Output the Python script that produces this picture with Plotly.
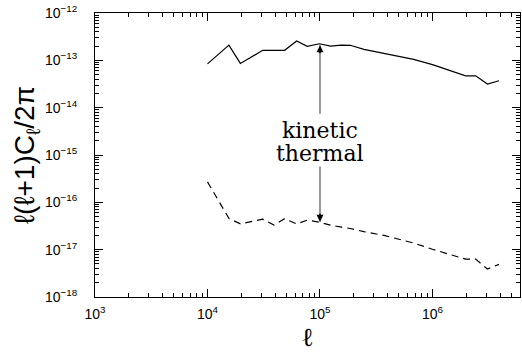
import plotly.graph_objects as go

ell = [1.0e4, 1.55e4, 1.96e4, 3.1e4, 3.9e4, 4.85e4, 6.2e4, 7.7e4, 9.9e4, 1.24e5,
       1.55e5, 1.86e5, 2.46e5, 3.7e5, 6.8e5, 1.0e6, 1.97e6, 2.42e6, 3.08e6, 3.9e6]
kinetic = [8.4e-14, 2.1e-13, 8.6e-14, 1.63e-13, 1.63e-13, 1.63e-13, 2.56e-13, 1.97e-13, 2.24e-13, 2.0e-13,
           2.1e-13, 2.08e-13, 1.7e-13, 1.4e-13, 1.05e-13, 8.1e-14, 4.7e-14, 4.7e-14, 3.15e-14, 3.7e-14]
thermal = [2.7e-16, 4.6e-17, 3.5e-17, 4.4e-17, 3.3e-17, 4.5e-17, 3.5e-17, 4.2e-17, 3.8e-17, 3.3e-17,
           3.0e-17, 2.8e-17, 2.4e-17, 2.0e-17, 1.38e-17, 1.02e-17, 6.3e-18, 6.3e-18, 3.9e-18, 4.9e-18]

x_tickvals = [1e3, 1e4, 1e5, 1e6]
x_ticktext = ["10<sup>3</sup>", "10<sup>4</sup>", "10<sup>5</sup>", "10<sup>6</sup>"]
y_tickvals = [1e-18, 1e-17, 1e-16, 1e-15, 1e-14, 1e-13, 1e-12]
y_ticktext = ["10<sup>−18</sup>", "10<sup>−17</sup>", "10<sup>−16</sup>", "10<sup>−15</sup>",
              "10<sup>−14</sup>", "10<sup>−13</sup>", "10<sup>−12</sup>"]

fig = go.Figure()
fig.add_trace(go.Scatter(x=ell, y=kinetic, mode="lines", line=dict(color="black", width=1.2),
                         showlegend=False))
fig.add_trace(go.Scatter(x=ell, y=thermal, mode="lines",
                         line=dict(color="black", width=1.2, dash="7px,5px"), showlegend=False))

txtfont = dict(family="DejaVu Serif", size=22, color="black")
fig.add_annotation(x=5, y=-14.49, xref="x", yref="y", text="kinetic", showarrow=False, font=txtfont)
fig.add_annotation(x=5, y=-14.96, xref="x", yref="y", text="thermal", showarrow=False, font=txtfont)

# arrows: grey shafts, black heads
for tip, tail in [(-12.68, -14.16), (-16.41, -15.21)]:
    fig.add_annotation(x=5, y=tip, ax=5, ay=tail, xref="x", yref="y", axref="x", ayref="y",
                       text="", showarrow=True, arrowhead=0, arrowwidth=1.6, arrowcolor="#808080")
    fig.add_annotation(x=5, y=tip, ax=5, ay=tip + (0.2 if tail > tip else -0.2), xref="x", yref="y",
                       axref="x", ayref="y", text="", showarrow=True, arrowhead=2, arrowsize=1.0,
                       arrowwidth=1.4, arrowcolor="black")

tickfont = dict(family="Liberation Sans", size=14, color="black")
axcommon = dict(type="log", showgrid=False, zeroline=False, showline=True, linecolor="black",
                linewidth=1, mirror="allticks", ticks="inside", ticklen=8, tickcolor="black",
                tickwidth=1, tickfont=tickfont,
                minor=dict(ticks="inside", ticklen=4, tickcolor="black", dtick="D1", showgrid=False))

fig.update_xaxes(**axcommon, range=[3, 6.778], tickmode="array", tickvals=x_tickvals,
                 ticktext=x_ticktext, ticklabelstandoff=4,
                 title=dict(text="ℓ", font=dict(family="DejaVu Serif", size=26, color="black"),
                            standoff=4))
fig.update_yaxes(**axcommon, range=[-18, -12], tickmode="array", tickvals=y_tickvals,
                 ticktext=y_ticktext, ticklabelstandoff=14,
                 title=dict(text="ℓ(ℓ+1)C<sub>ℓ</sub>/2π",
                            font=dict(family="Liberation Sans", size=28, color="black"),
                            standoff=2))

fig.update_layout(width=522, height=354, margin=dict(l=95, r=2, t=13, b=57, autoexpand=False),
                  plot_bgcolor="white", paper_bgcolor="white")

fig.write_html("out.html", config={"displayModeBar": False},
               post_script="document.body.style.margin='0px';")
